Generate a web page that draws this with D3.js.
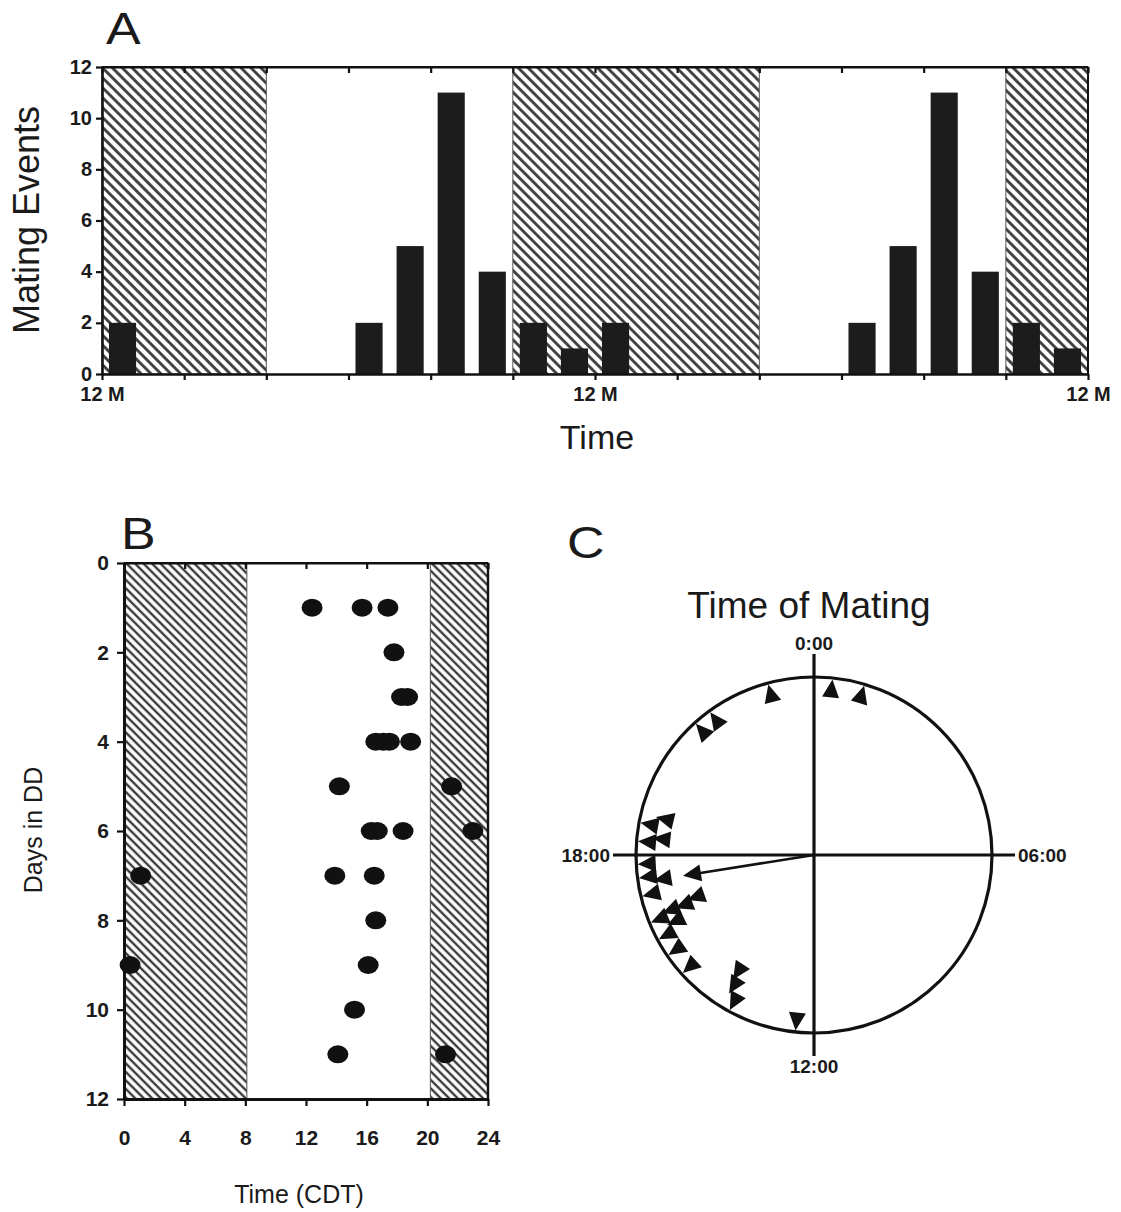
<!DOCTYPE html>
<html>
<head>
<meta charset="utf-8">
<script src="https://cdn.jsdelivr.net/npm/d3@7"></script>
<style>
  html, body { margin: 0; padding: 0; background: #ffffff; }
  svg { display: block; }
  text { font-family: "Liberation Sans", Arial, Helvetica, sans-serif; fill: #1a1a1a; }
</style>
</head>
<body>
<svg id="chart" width="1121" height="1212"></svg>
<script>
// ---------------- DATA ----------------
// Panel A: double-plotted histogram (2-h bins), in hours from midnight
const binStarts = [0, 12, 14, 16, 18, 20, 22];
const binCounts = [2, 2, 5, 11, 4, 2, 1];
const plotDayOffsets = [0, 24];
const darkPeriodsA = [[0, 8], [20, 32], [44, 48]];
const yTicksA = [0, 2, 4, 6, 8, 10, 12];
const xTickHoursA = [0, 4, 8, 12, 16, 20, 24, 28, 32, 36, 40, 44, 48];
const xLabelHoursA = [0, 24, 48];
const xLabelTextA = ["12 M", "12 M", "12 M"];

// Panel B: individual mating events (day in DD, time of day in CDT)
const matingDay  = [1, 1, 1, 2, 3, 3, 4, 4, 4, 4, 5, 5, 6, 6, 6, 6, 7, 7, 7, 8, 9, 9, 10, 11, 11];
const matingTime = [12.4, 15.7, 17.4, 17.8, 18.3, 18.7, 16.6, 17.1, 17.5, 18.9, 14.2, 21.6, 16.3, 16.7, 18.4, 23.0, 1.1, 13.9, 16.5, 16.6, 0.4, 16.1, 15.2, 14.1, 21.2];
const darkPeriodsB = [[0, 8.1], [20.2, 24]];
const xTicksB = [0, 4, 8, 12, 16, 20, 24];
const yTicksB = [0, 2, 4, 6, 8, 10, 12];

// Panel C: circular plot labels and mean vector
const circleLabelHours = [0, 6, 12, 18];
const circleLabelText = ["0:00", "06:00", "12:00", "18:00"];
const meanVectorHour = 17.4;
const meanVectorLength = 0.745;

// ---------------- DRAWING ----------------
const svg = d3.select("#chart");
svg.append("rect").attr("width", 1121).attr("height", 1212).attr("fill", "#ffffff");

const defs = svg.append("defs");
function hatch(id, period, sw, col) {
  const p = defs.append("pattern")
    .attr("id", id).attr("patternUnits", "userSpaceOnUse")
    .attr("width", period).attr("height", period)
    .attr("patternTransform", "rotate(-45)");
  p.append("rect").attr("width", period).attr("height", period).attr("fill", "#ffffff");
  p.append("line").attr("x1", period / 2).attr("y1", 0).attr("x2", period / 2).attr("y2", period)
    .attr("stroke", col).attr("stroke-width", sw);
}
hatch("hatchA", 7, 2.8, "#3a3a3a");
hatch("hatchB", 6, 2.4, "#3a3a3a");

function styleAxis(g, width) {
  g.select(".domain").attr("stroke", "#111").attr("stroke-width", width);
  g.selectAll(".tick line").attr("stroke", "#111").attr("stroke-width", 2.2);
  g.selectAll(".tick text").attr("font-weight", "bold").attr("fill", "#1a1a1a");
}
function panelLetter(g, x, y, s) {
  g.append("text").attr("transform", `translate(${x},${y}) scale(1.18,1)`)
    .attr("font-size", 44).text(s);
}

// ===== Panel A =====
const A = { left: 102, right: 1088, top: 67, bottom: 374 };
const xA = d3.scaleLinear().domain([0, 48]).range([A.left, A.right]);
const yA = d3.scaleLinear().domain([0, 12]).range([A.bottom, A.top]);
const gA = svg.append("g");

gA.selectAll("rect.dark").data(darkPeriodsA).join("rect")
  .attr("class", "dark")
  .attr("x", d => xA(d[0])).attr("width", d => xA(d[1]) - xA(d[0]))
  .attr("y", A.top).attr("height", A.bottom - A.top)
  .attr("fill", "url(#hatchA)").attr("stroke", "#555").attr("stroke-width", 1);

const barsA = [];
plotDayOffsets.forEach(off => binStarts.forEach((b, i) => barsA.push({ h: off + b + 1, v: binCounts[i] })));
const barWA = 0.66 * (xA(2) - xA(0));
gA.selectAll("rect.bar").data(barsA).join("rect")
  .attr("class", "bar")
  .attr("x", d => xA(d.h) - barWA / 2).attr("width", barWA)
  .attr("y", d => yA(d.v)).attr("height", d => yA(0) - yA(d.v))
  .attr("fill", "#1c1c1c");

gA.append("line").attr("x1", A.left).attr("x2", A.right).attr("y1", A.top).attr("y2", A.top)
  .attr("stroke", "#111").attr("stroke-width", 2);
gA.append("line").attr("x1", A.right).attr("x2", A.right).attr("y1", A.top).attr("y2", A.bottom)
  .attr("stroke", "#111").attr("stroke-width", 2);

const axTopA = gA.append("g").attr("transform", `translate(0,${A.top})`)
  .call(d3.axisTop(xA).tickValues(xTickHoursA).tickSize(-6).tickSizeOuter(0).tickFormat(""));
styleAxis(axTopA, 2);

const axLeftA = gA.append("g").attr("transform", `translate(${A.left},0)`)
  .call(d3.axisLeft(yA).tickValues(yTicksA).tickSize(6).tickPadding(4).tickSizeOuter(0));
styleAxis(axLeftA, 2.6);
axLeftA.selectAll(".tick text").attr("font-size", 20).attr("dy", "0.30em");

const axBotA = gA.append("g").attr("transform", `translate(0,${A.bottom})`)
  .call(d3.axisBottom(xA).tickValues(xTickHoursA).tickSize(6).tickPadding(7).tickSizeOuter(0)
    .tickFormat(h => { const k = xLabelHoursA.indexOf(h); return k >= 0 ? xLabelTextA[k] : ""; }));
styleAxis(axBotA, 2.6);
axBotA.selectAll(".tick text").attr("font-size", 20);

gA.append("text").attr("x", 597).attr("y", 449).attr("text-anchor", "middle")
  .attr("font-size", 34).text("Time");
gA.append("text").attr("transform", "translate(39,220) rotate(-90)").attr("text-anchor", "middle")
  .attr("font-size", 36).text("Mating Events");
panelLetter(gA, 106, 44, "A");

// ===== Panel B =====
const B = { left: 124, right: 488, top: 563, bottom: 1099 };
const xB = d3.scaleLinear().domain([0, 24]).range([B.left, B.right]);
const yB = d3.scaleLinear().domain([0, 12]).range([B.top, B.bottom]);
const gB = svg.append("g");

gB.selectAll("rect.dark").data(darkPeriodsB).join("rect")
  .attr("class", "dark")
  .attr("x", d => xB(d[0])).attr("width", d => xB(d[1]) - xB(d[0]))
  .attr("y", B.top).attr("height", B.bottom - B.top)
  .attr("fill", "url(#hatchB)").attr("stroke", "#555").attr("stroke-width", 1);

gB.append("line").attr("x1", B.left).attr("x2", B.right).attr("y1", B.top).attr("y2", B.top)
  .attr("stroke", "#111").attr("stroke-width", 2);
gB.append("line").attr("x1", B.right).attr("x2", B.right).attr("y1", B.top).attr("y2", B.bottom)
  .attr("stroke", "#111").attr("stroke-width", 2.4);

const axTopB = gB.append("g").attr("transform", `translate(0,${B.top})`)
  .call(d3.axisTop(xB).tickValues(xTicksB).tickSize(-6).tickSizeOuter(0).tickFormat(""));
styleAxis(axTopB, 2);

const axLeftB = gB.append("g").attr("transform", `translate(${B.left},0)`)
  .call(d3.axisLeft(yB).tickValues(yTicksB).tickSize(7).tickPadding(8).tickSizeOuter(0));
styleAxis(axLeftB, 3);
axLeftB.selectAll(".tick text").attr("font-size", 21);

const axBotB = gB.append("g").attr("transform", `translate(0,${B.bottom})`)
  .call(d3.axisBottom(xB).tickValues(xTicksB).tickSize(7).tickPadding(24).tickSizeOuter(0));
styleAxis(axBotB, 3);
axBotB.selectAll(".tick text").attr("font-size", 21);

const ptsB = matingDay.map((d, i) => ({ day: d, t: matingTime[i] }));
gB.selectAll("ellipse.pt").data(ptsB).join("ellipse")
  .attr("class", "pt")
  .attr("cx", d => xB(d.t)).attr("cy", d => yB(d.day))
  .attr("rx", 10.5).attr("ry", 9).attr("fill", "#111");

gB.append("text").attr("x", 299).attr("y", 1203).attr("text-anchor", "middle")
  .attr("font-size", 25).text("Time (CDT)");
gB.append("text").attr("transform", "translate(42,830) rotate(-90)").attr("text-anchor", "middle")
  .attr("font-size", 25).text("Days in DD");
panelLetter(gB, 121, 549, "B");

// ===== Panel C =====
const C = { cx: 814, cy: 855, R: 178 };
const ang = d3.scaleLinear().domain([0, 24]).range([0, 2 * Math.PI]);
const rad = d3.scaleLinear().domain([0, 1]).range([0, C.R]);
const gC = svg.append("g");

panelLetter(gC, 567, 558, "C");
gC.append("text").attr("x", 809).attr("y", 618).attr("text-anchor", "middle")
  .attr("font-size", 37).text("Time of Mating");

gC.append("circle").attr("cx", C.cx).attr("cy", C.cy).attr("r", C.R)
  .attr("fill", "none").attr("stroke", "#111").attr("stroke-width", 3.2);
const ext = 23;
gC.append("line").attr("x1", C.cx - C.R - ext).attr("x2", C.cx + C.R + ext)
  .attr("y1", C.cy).attr("y2", C.cy).attr("stroke", "#111").attr("stroke-width", 3.2);
gC.append("line").attr("x1", C.cx).attr("x2", C.cx)
  .attr("y1", C.cy - C.R - ext).attr("y2", C.cy + C.R + ext).attr("stroke", "#111").attr("stroke-width", 3.2);

function polar(t, r) {
  const a = ang(t);
  return [C.cx + Math.sin(a) * r, C.cy - Math.cos(a) * r];
}
const triH = 18, triB = 17, stackStep = 14;
function triPath(t, tipR) {
  const a = ang(t);
  const ux = Math.sin(a), uy = -Math.cos(a);
  const px = Math.cos(a), py = Math.sin(a);
  const tip = [C.cx + ux * tipR, C.cy + uy * tipR];
  const bc = [C.cx + ux * (tipR - triH), C.cy + uy * (tipR - triH)];
  return `M${tip[0]},${tip[1]}L${bc[0] + px * triB / 2},${bc[1] + py * triB / 2}L${bc[0] - px * triB / 2},${bc[1] - py * triB / 2}Z`;
}

// stack triangles that overlap in angle
const sortedT = matingTime.slice().sort((a, b) => a - b);
const placed = [];
const minSep = 0.3;
sortedT.forEach(t => {
  let level = 0;
  while (placed.some(p => p.level === level && Math.min(Math.abs(p.t - t), 24 - Math.abs(p.t - t)) < minSep)) level++;
  placed.push({ t, level });
});
gC.selectAll("path.tri").data(placed).join("path")
  .attr("class", "tri")
  .attr("d", d => triPath(d.t, C.R - 1.5 - d.level * stackStep))
  .attr("fill", "#111");

// mean vector arrow
const tipR = rad(meanVectorLength);
const lineEnd = polar(meanVectorHour, tipR - triH + 2);
gC.append("line").attr("x1", C.cx).attr("y1", C.cy).attr("x2", lineEnd[0]).attr("y2", lineEnd[1])
  .attr("stroke", "#111").attr("stroke-width", 2.6);
gC.append("path").attr("d", triPath(meanVectorHour, tipR)).attr("fill", "#111");

// labels
circleLabelHours.forEach((h, i) => {
  const t = gC.append("text").attr("font-size", 19).attr("font-weight", "bold").text(circleLabelText[i]);
  if (h === 0) t.attr("x", C.cx).attr("y", C.cy - C.R - ext - 4).attr("text-anchor", "middle");
  if (h === 12) t.attr("x", C.cx).attr("y", C.cy + C.R + ext + 17).attr("text-anchor", "middle");
  if (h === 18) t.attr("x", C.cx - C.R - ext - 3).attr("y", C.cy + 7).attr("text-anchor", "end");
  if (h === 6) t.attr("x", C.cx + C.R + ext + 3).attr("y", C.cy + 7).attr("text-anchor", "start");
});
</script>
</body>
</html>
